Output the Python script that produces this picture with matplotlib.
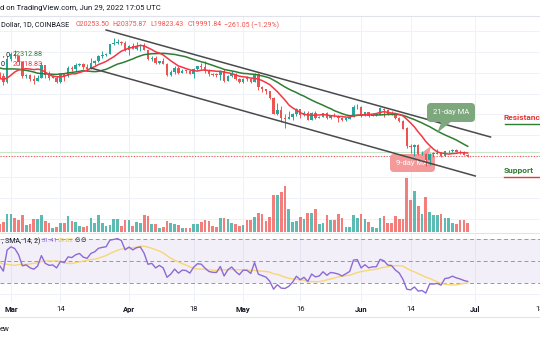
import numpy as np
import pandas as pd
import matplotlib
matplotlib.use('Agg')
import matplotlib.pyplot as plt
import matplotlib.dates as mdates
from matplotlib.patches import FancyBboxPatch, Polygon
from matplotlib.lines import Line2D
from matplotlib.transforms import IdentityTransform

plt.rcParams['font.family'] = ['Roboto', 'DejaVu Sans']

W, H = 540, 340
UP = '#26a69a'
DOWN = '#ef5350'
GRID = '#eef1f7'
TXT = '#131722'

# closes before the visible window (Feb 1 - Feb 24), only for the indicators
warmup_close = [38700, 36900, 37300, 41500, 41400, 42400, 43800, 44100, 44400, 43500,
                42400, 42200, 42100, 42500, 44500, 43900, 40500, 40000, 40100, 38400,
                37000, 38300, 37300, 38300]

# daily BTC/USD, Feb 25 - Jun 29 2022
first_day = '2022-02-25'
close = [39200, 39100, 37700, 43200,
         44400, 44000, 42500, 39100, 39400, 38400, 37900, 38700, 41900, 39400,
         38700, 38800, 37800, 39700, 39300, 41100, 40900, 41800, 42200, 41300,
         41000, 42400, 42900, 44000, 44300, 44500, 46800, 47100, 47400, 47100, 45500,
         46300, 45800, 46400, 46600, 45500, 43200, 43400, 42300, 42800, 42200,
         39500, 40100, 41100, 39900, 40500, 40400, 39700, 40800, 41500, 41400,
         40500, 39700, 39500, 39460, 40400, 38100, 39200, 39700, 38600, 37700,
         38500, 38480, 37700, 39700, 36500, 36000, 35500, 34000, 30100, 31000,
         29100, 28900, 29300, 30100, 31300, 29900, 30400, 28700, 30300, 29200,
         29400, 30300, 29100, 29700, 29500, 29200, 28600, 29000, 29400, 31700, 31800,
         29800, 30500, 29700, 29900, 29910, 31400, 31100, 30200, 30100, 29100,
         28400, 26600, 22500, 22100, 22600, 20400, 20500, 19000, 20600, 20600,
         20700, 20000, 21100, 21200, 21500, 21000, 20700, 20254, 19992]
high = [39700, 40200, 39800, 44000,
        44900, 45400, 44100, 42500, 39600, 39600, 39500, 39400, 42500, 41900,
        40300, 39400, 39300, 39900, 39900, 41700, 41500, 42300, 42400, 42300,
        42000, 43400, 43000, 44300, 45100, 44800, 46900, 48200, 48100, 47700, 47600,
        46700, 47200, 47400, 46900, 47200, 45500, 43900, 43900, 42800, 43400,
        42400, 40700, 41500, 41500, 40800, 40700, 40600, 41100, 41700, 42200,
        42900, 40800, 39900, 39900, 40600, 40800, 39500, 40400, 39900, 38800,
        38700, 39200, 38600, 40000, 39800, 36700, 36100, 35500, 34200, 32600,
        32100, 30000, 30900, 30300, 31400, 31300, 30800, 30700, 30500, 30700,
        29600, 30400, 30600, 29800, 30200, 29800, 29400, 29100, 29500, 32200, 32400,
        31900, 30600, 30600, 29950, 30200, 31700, 31500, 31300, 30700, 30400,
        29400, 28600, 26900, 23000, 22800, 22900, 21300, 20800, 20800, 21000,
        21700, 20900, 21200, 21500, 21600, 21800, 21500, 21200, 20376]
low = [38000, 38600, 37000, 37400,
       42900, 43400, 41900, 38600, 38600, 38100, 37200, 37900, 38700, 38600,
       38300, 38700, 37600, 37600, 38100, 38900, 40500, 40200, 41700, 40900,
       40500, 40900, 41800, 42600, 43600, 44100, 44400, 46700, 46900, 46600, 45200,
       44200, 45600, 45500, 45100, 45400, 43100, 42800, 42100, 42100, 42100,
       39200, 39300, 39600, 39600, 39800, 40000, 39600, 38600, 40600, 40900,
       39800, 39200, 39300, 39000, 38200, 37700, 37900, 38900, 38200, 37600,
       37400, 38000, 37500, 37700, 35900, 35300, 34800, 33700, 30000, 29800,
       28200, 26700, 28800, 28700, 29500, 29100, 29500, 28600, 28700, 28800,
       29000, 29300, 28900, 28800, 29300, 28100, 28300, 28500, 28800, 29300, 31200,
       29300, 29600, 29300, 29500, 29500, 29900, 29300, 29900, 29900, 28900,
       28100, 26500, 21900, 20800, 20100, 20200, 20300, 17600, 17900, 19700,
       20400, 19800, 19900, 20800, 20900, 20900, 20500, 20200, 19823]
# volume, thousand BTC
volume = [22, 16, 20, 36,
          36, 28, 24, 34, 14, 16, 26, 26, 34, 22, 18, 8, 10, 18, 18, 32,
          22, 20, 12, 10, 12, 28, 18, 34, 18, 12, 14, 26, 26, 12, 24,
          24, 12, 20, 18, 34, 32, 16, 16, 8, 10, 22, 18, 16, 14, 8,
          8, 8, 16, 16, 20, 24, 22, 12, 10, 28, 28, 26, 18, 16, 12,
          14, 24, 24, 30, 38, 36, 22, 30, 74, 74, 80, 92, 46, 20, 22,
          30, 26, 38, 38, 46, 16, 18, 34, 24, 24, 36, 28, 10, 10, 34, 28,
          36, 26, 20, 10, 8, 28, 32, 18, 18, 32, 26, 26, 108, 64, 82,
          52, 36, 70, 40, 34, 34, 36, 28, 28, 18, 16, 24, 24, 18]

# hand drawn descending channel (date, price)
upper_channel = (['2022-03-26', '2022-07-05'], [50240, 24560])
lower_channel = (['2022-03-22', '2022-07-01'], [41120, 15200])
level_green = 20960
level_last = 19992

tick_days = ['2022-03-01', '2022-03-14', '2022-04-01', '2022-04-18', '2022-05-01',
             '2022-05-16', '2022-06-01', '2022-06-14', '2022-07-01', '2022-07-18']
tick_labels = ['Mar', '14', 'Apr', '18', 'May', '16', 'Jun', '14', 'Jul', '18']

# ---- indicators ----
n_warm = len(warmup_close)
all_close = pd.Series(warmup_close + close, dtype=float)
ma9 = all_close.rolling(9).mean().values[n_warm:]
ma21 = all_close.rolling(21).mean().values[n_warm:]
delta = all_close.diff().fillna(0)
gain = delta.clip(lower=0).ewm(alpha=1 / 14, adjust=False).mean()
loss = (-delta.clip(upper=0)).ewm(alpha=1 / 14, adjust=False).mean()
rsi_all = 100 - 100 / (1 + gain / loss)
rsi = rsi_all.values[n_warm:]
rsi_ma = rsi_all.rolling(14).mean().values[n_warm:]

dates = pd.date_range(first_day, periods=len(close), freq='D')
x = mdates.date2num(dates)
o = np.array([warmup_close[-1]] + close[:-1], dtype=float)
c = np.array(close, dtype=float)
up = c >= o
colors = np.where(up, UP, DOWN)

# ---- figure ----
fig = plt.figure(figsize=(W / 100, H / 100), dpi=100)


def rect(top, bottom):
    return [0, 1 - bottom / H, 1, (bottom - top) / H]


ax_vol = fig.add_axes(rect(17, 232))
ax = fig.add_axes(rect(17, 232), sharex=ax_vol)
ax.patch.set_visible(False)
ax_rsi = fig.add_axes(rect(233, 302), sharex=ax_vol)

mar1 = mdates.date2num(pd.Timestamp('2022-03-01'))
ax.set_xlim(mar1 - 11 / 3.82, mar1 + 529 / 3.82)
ax.set_ylim(1760, 53360)
ax_vol.set_ylim(0, 430)
ax_rsi.set_ylim(12.7, 75.45)

ticks = mdates.date2num(pd.to_datetime(tick_days))
for a in (ax_vol, ax_rsi):
    for t in ticks:
        a.axvline(t, color=GRID, lw=0.7, zorder=0)
for p in range(5000, 55000, 5000):
    ax_vol.axhline((p - 1760) / (53360 - 1760) * 430, color=GRID, lw=0.7, zorder=0)

# volume
ax_vol.bar(x, volume, width=0.7, color=colors, alpha=0.75, linewidth=0)

# candles
ax.vlines(x, low, high, colors=colors, lw=0.7, zorder=3)
body_low = np.minimum(o, c)
body_h = np.maximum(np.abs(c - o), 150)
ax.bar(x, body_h, bottom=body_low, width=0.65, color=colors, linewidth=0, zorder=3)

# moving averages
ax.plot(x, ma21, color='#2e7d32', lw=1.1, zorder=4)
ax.plot(x, ma9, color='#f23645', lw=1.1, zorder=4)

# channel
for d, p in (upper_channel, lower_channel):
    ax.plot(mdates.date2num(pd.to_datetime(d)), p, color='#4a4a4a', lw=1.1, zorder=5)

ax.axhline(level_green, color='#c8e6c9', lw=0.8, zorder=2)
ax.axhline(level_last, color=DOWN, lw=0.8, ls=(0, (1, 1.5)), zorder=2)

# rsi pane
ax_rsi.axhspan(30, 70, color='#7e57c2', alpha=0.09, lw=0)
for lvl in (70, 50, 30):
    ax_rsi.axhline(lvl, color='#9598a1', lw=0.7, ls=(0, (4, 3)))
ax_rsi.axhline(20, color=GRID, lw=0.7)
ax_rsi.plot(x, rsi_ma, color='#f7d774', lw=1.0)
ax_rsi.plot(x, rsi, color='#8c6ad4', lw=1.0)

for a in (ax, ax_vol, ax_rsi):
    for s in a.spines.values():
        s.set_visible(False)
    a.set_yticks([])
ax.tick_params(bottom=False, labelbottom=False)
ax_vol.tick_params(bottom=False, labelbottom=False)
ax_rsi.set_xticks(ticks)
ax_rsi.set_xticklabels(tick_labels)
ax_rsi.tick_params(axis='x', length=0, pad=3, labelsize=5.5, labelcolor=TXT)
for lab in ax_rsi.get_xticklabels():
    if lab.get_text().isalpha():
        lab.set_fontweight('bold')

# ---- overlays in pixel coordinates ----
PIX = IdentityTransform()


def fx(px):
    return px / W


def fy(py):
    return 1 - py / H


def hline(y, x0, x1, color, lw=0.8):
    fig.add_artist(Line2D([fx(x0), fx(x1)], [fy(y), fy(y)], color=color, lw=lw,
                          transform=fig.transFigure))


hline(16, 0, W, '#e0e3eb')
hline(232.5, 0, W, '#e0e3eb')
hline(317, 0, W, '#e0e3eb')

fig.text(fx(0), fy(8), 'd on TradingView.com, Jun 29, 2022 17:05 UTC', fontsize=5.5,
         color=TXT, va='center')
fig.text(fx(1), fy(25), 'Dollar, 1D, COINBASE', fontsize=5.2, color=TXT, va='center')
for px, s in [(76, 'O20253.50'), (112, 'H20375.87'), (150, 'L19823.43'),
              (188, 'C19991.84'), (224, '\u2212261.05 (\u22121.29%)')]:
    fig.text(fx(px), fy(25), s, fontsize=5.0, color=DOWN, va='center')
fig.text(fx(10), fy(55), ', 0', fontsize=5.2, color=TXT, va='center', ha='right')
fig.text(fx(13), fy(55), '22312.88', fontsize=5.2, color='#2e7d32', va='center')
fig.text(fx(1), fy(65), '0', fontsize=5.2, color=TXT, va='center')
fig.text(fx(13), fy(65), '20718.83', fontsize=5.2, color='#f23645', va='center')

fig.text(fx(40), fy(241), ', SMA, 14, 2)', fontsize=5.0, color=TXT, va='center', ha='right')
fig.text(fx(42), fy(241), '31.41', fontsize=4.6, color='#8c6ad4', va='center')
fig.text(fx(58), fy(241), '29.82', fontsize=4.6, color='#e6c24a', va='center')
fig.text(fx(75), fy(241), '\u2205', fontsize=4.6, color=TXT, va='center')
fig.text(fx(81), fy(241), '\u2205', fontsize=4.6, color=TXT, va='center')
fig.text(fx(0), fy(329), 'ew', fontsize=5.5, color=TXT, va='center')

# MA call-outs
box21 = FancyBboxPatch((427, H - 122), 48, 19, boxstyle='round,pad=0,rounding_size=4',
                       transform=PIX, facecolor='#7da77d', edgecolor='none', zorder=6,
                       clip_on=False)
ax.add_patch(box21)
ax.add_patch(Polygon([(442, H - 121), (452, H - 121), (437, H - 133)], closed=True,
                     transform=PIX, facecolor='#7da77d', edgecolor='none', zorder=6,
                     clip_on=False))
fig.text(fx(451), fy(112.5), '21-day MA', fontsize=5.5, color='white', ha='center',
         va='center')

box9 = FancyBboxPatch((390, H - 172), 45, 18, boxstyle='round,pad=0,rounding_size=4',
                      transform=PIX, facecolor='#f49a9a', edgecolor='none', zorder=2.5,
                      clip_on=False)
ax.add_patch(box9)
ax.add_patch(Polygon([(419, H - 155), (429, H - 155), (431, H - 146)], closed=True,
                     transform=PIX, facecolor='#f49a9a', edgecolor='none', zorder=2.5,
                     clip_on=False))
ax.text(412.5, H - 163, '9-day MA', transform=PIX, fontsize=5.5, color='white',
        ha='center', va='center', zorder=2.6)

fig.text(fx(504), fy(118), 'Resistance', fontsize=6, fontweight='bold', color='#e53935',
         va='center')
hline(123.5, 505, W, '#2e7d32', lw=1.0)
fig.text(fx(504), fy(171), 'Support', fontsize=6, fontweight='bold', color='#2e7d32',
         va='center')
hline(177, 504, W, '#e53935', lw=1.0)

fig.savefig('out.png', dpi=100)
